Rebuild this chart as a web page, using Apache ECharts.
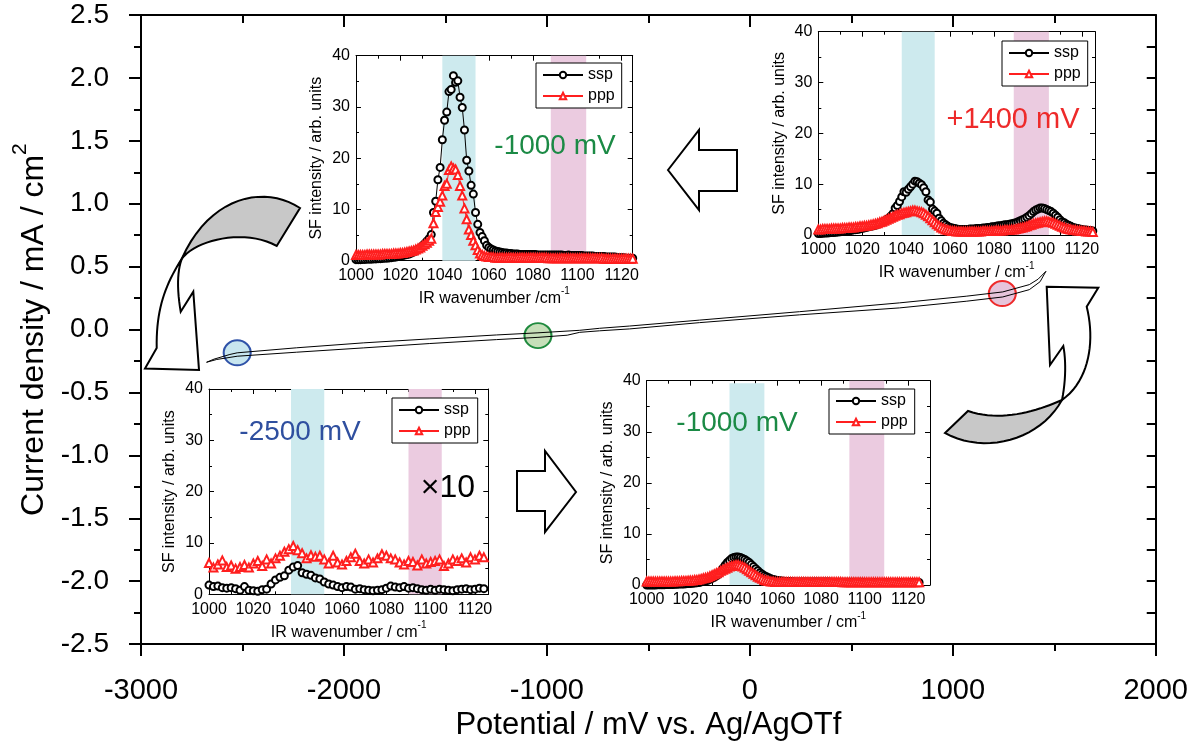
<!DOCTYPE html>
<html>
<head>
<meta charset="utf-8">
<script src="https://cdn.jsdelivr.net/npm/echarts@6/dist/echarts.min.js"></script>
<style>
  html, body { margin: 0; padding: 0; background: #fff; }
  #chart { width: 1191px; height: 746px; }
</style>
</head>
<body>
<div id="chart"></div>
<script>
// ---------- data ----------
// cyclic voltammogram (potential mV, current mA/cm2)
const cvForward = [[-2677,-0.26],[-2627,-0.238],[-2526,-0.212],[-2233,-0.18],[-1905,-0.146],[-1577,-0.111],[-1249,-0.08],[-1044,-0.062],[-900,-0.045],[-838,-0.022],[-740,-0.01],[-592,0.005],[-248,0.055],[245,0.117],[737,0.172],[1066,0.225],[1246,0.259],[1377,0.317],[1430,0.38],[1459,0.463]];
const cvReverse = [[1459,0.463],[1420,0.40],[1377,0.357],[1246,0.299],[1066,0.265],[737,0.212],[245,0.142],[-248,0.075],[-592,0.028],[-740,0.01],[-838,-0.006],[-1044,-0.026],[-1249,-0.043],[-1577,-0.074],[-1905,-0.106],[-2233,-0.145],[-2526,-0.185],[-2562,-0.198],[-2640,-0.235],[-2677,-0.26]];
// marked potentials on the CV
const markPoints = [[-2526,-0.185],[-1044,-0.048],[1244,0.286]];

// SFG spectra, wavenumber in cm-1
const wn = [1000,1001,1002,1003,1004,1005,1006,1007,1008,1009,1010,1011,1012,1013,1014,1015,1016,1017,1018,1019,1020,1021,1022,1023,1024,1025,1026,1027,1028,1029,1030,1031,1032,1033,1034,1035,1036,1037,1038,1039,1040,1041,1042,1043,1044,1045,1046,1047,1048,1049,1050,1051,1052,1053,1054,1055,1056,1057,1058,1059,1060,1061,1062,1063,1064,1065,1066,1067,1068,1069,1070,1071,1072,1073,1074,1075,1076,1077,1078,1079,1080,1081,1082,1083,1084,1085,1086,1087,1088,1089,1090,1091,1092,1093,1094,1095,1096,1097,1098,1099,1100,1101,1102,1103,1104,1105,1106,1107,1108,1109,1110,1111,1112,1113,1114,1115,1116,1117,1118,1119,1120,1121,1122,1123,1124,1125];
const wnCoarse = [1000,1002,1004,1006,1008,1010,1012,1014,1016,1018,1020,1022,1024,1026,1028,1030,1032,1034,1036,1038,1040,1042,1044,1046,1048,1050,1052,1054,1056,1058,1060,1062,1064,1066,1068,1070,1072,1074,1076,1078,1080,1082,1084,1086,1088,1090,1092,1094,1096,1098,1100,1102,1104,1106,1108,1110,1112,1114,1116,1118,1120,1122,1124];

// -1000 mV (upper inset)
const ssp1 = [0.2,0.2,0.2,0.25,0.25,0.3,0.3,0.3,0.35,0.35, 0.4,0.4,0.45,0.5,0.5,0.55,0.6,0.65,0.7,0.8, 0.9,1.0,1.1,1.2,1.3,1.5,1.7,1.9,2.2,2.5, 2.9,3.3,3.8,4.3,5.1,9.4,11.6,15.8,18.2,23.6, 27.4,29.0,33.0,33.4,36.1,34.8,35.1,31.9,29.9,25.5, 19.6,17.5,14.7,13.0,9.4,7.1,5.5,4.7,3.9,3.0, 2.6,2.3,2.1,1.9,1.8,1.7,1.6,1.5,1.5,1.4, 1.4,1.3,1.3,1.3,1.2,1.2,1.2,1.2,1.2,1.2, 1.2,1.2,1.1,1.1,1.1,1.1,1.1,1.1,1.1,1.1, 1.1,1.1,1.1,1.1,1.0,1.0,1.1,1.0,1.0,1.0, 1.0,1.0,1.0,0.9,0.9,0.9,0.9,0.9,0.8,0.8, 0.8,0.8,0.8,0.7,0.7,0.7,0.7,0.7,0.6,0.6, 0.6,0.6,0.5,0.5,0.5,0.5];
const ppp1 = [1.1,1.1,1.1,1.1,1.1,1.2,1.2,1.2,1.2,1.2, 1.2,1.2,1.3,1.3,1.3,1.3,1.3,1.4,1.4,1.4, 1.5,1.5,1.6,1.7,1.8,1.9,2.0,2.2,2.4,2.6, 2.9,3.2,3.5,3.9,4.3,7.3,9.5,10.5,11.5,12.7, 14.6,15.0,17.7,18.4,18.0,17.8,16.7,14.6,12.7,10.2, 8.1,6.1,5.0,3.9,3.0,2.1,1.4,1.1,0.9,0.8, 0.7,0.7,0.7,0.6,0.6,0.6,0.6,0.6,0.6,0.6, 0.6,0.6,0.6,0.6,0.6,0.6,0.6,0.6,0.6,0.6, 0.6,0.6,0.6,0.6,0.6,0.6,0.6,0.5,0.5,0.5, 0.5,0.5,0.5,0.5,0.5,0.5,0.5,0.5,0.5,0.5, 0.5,0.5,0.5,0.5,0.5,0.5,0.5,0.5,0.5,0.5, 0.5,0.5,0.4,0.4,0.4,0.4,0.4,0.4,0.4,0.4, 0.4,0.4,0.4,0.4,0.4,0.4];
// +1400 mV
const ssp2 = [0.3,0.3,0.35,0.4,0.4,0.45,0.5,0.5,0.55,0.6, 0.65,0.7,0.75,0.8,0.85,0.9,1.0,1.05,1.1,1.2, 1.3,1.4,1.5,1.6,1.7,1.8,1.9,2.1,2.3,2.5, 2.7,3.0,3.3,3.7,4.2,5.3,5.8,6.6,7.5,8.5, 8.4,9.0,9.5,10.0,10.6,10.5,10.2,9.9,9.3,8.5, 6.9,6.5,5.1,4.7,4.3,3.3,2.8,2.3,2.0,1.7, 1.5,1.4,1.3,1.2,1.1,1.1,1.1,1.1,1.1,1.2, 1.2,1.2,1.3,1.3,1.3,1.4,1.4,1.5,1.5,1.6, 1.6,1.7,1.8,1.8,1.9,2.0,2.0,2.1,2.2,2.3, 2.4,2.6,2.8,3.0,3.2,3.5,3.8,4.2,4.6,4.9, 5.1,5.3,5.3,5.2,5.0,4.8,4.6,4.3,3.9,3.5, 3.0,2.6,2.4,2.1,1.9,1.7,1.5,1.4,1.3,1.2, 1.1,1.0,1.0,0.9,0.9,0.8];
const ppp2 = [1.1,1.1,1.2,1.2,1.2,1.2,1.3,1.3,1.3,1.3, 1.3,1.4,1.4,1.4,1.5,1.5,1.5,1.6,1.6,1.7, 1.7,1.8,1.8,1.9,2.0,2.1,2.2,2.3,2.5,2.6, 2.8,3.0,3.2,3.4,3.6,3.8,4.0,4.1,4.3,4.4, 4.5,4.6,4.7,4.8,4.8,4.7,4.6,4.5,4.3,4.0, 3.7,3.3,2.9,2.5,2.1,1.8,1.5,1.3,1.1,1.0, 0.9,0.8,0.8,0.7,0.7,0.7,0.7,0.7,0.7,0.7, 0.7,0.7,0.7,0.7,0.7,0.8,0.8,0.8,0.8,0.8, 0.8,0.9,0.9,0.9,0.9,1.0,1.0,1.0,1.1,1.1, 1.2,1.3,1.4,1.5,1.6,1.7,1.9,2.0,2.2,2.3, 2.4,2.5,2.6,2.7,2.7,2.6,2.5,2.4,2.2,2.0, 1.8,1.6,1.5,1.3,1.2,1.1,1.0,1.0,0.9,0.9, 0.8,0.8,0.7,0.7,0.7,0.6];
// -2500 mV (x10), sampled every 2 cm-1
const ssp3 = [1.8,1.5,1.6,1.3,1.2,1.3,1.1,0.8,1.5,0.8,0.7,0.6,0.9,1.0,2.0,2.8,3.3,3.6,4.7,5.3,5.6,4.2,3.9,3.7,3.2,3.0,2.4,2.0,1.8,1.5,1.3,1.5,1.4,1.0,1.1,0.9,0.8,0.7,0.8,0.9,1.2,1.6,1.4,1.3,1.5,1.2,1.3,1.1,0.9,0.8,1.0,0.8,1.0,0.9,0.8,0.7,0.9,1.0,1.1,0.9,1.0,1.2,1.1];
const ppp3 = [6.1,5.2,5.8,6.6,5.3,5.6,5.0,5.3,5.7,5.2,6.0,6.5,5.5,6.8,6.0,7.0,7.5,8.3,8.8,9.4,8.6,8.0,7.0,7.6,7.3,7.5,6.8,6.0,7.5,6.2,5.8,6.5,7.2,7.9,6.5,6.0,6.8,6.2,7.0,7.8,7.5,7.0,6.8,6.2,5.8,6.5,6.3,5.6,6.8,6.0,6.3,6.5,6.8,5.5,6.0,6.8,6.5,7.0,6.2,7.2,6.8,7.5,7.2];
// -1000 mV (lower inset)
const ssp4 = [0.0,0.0,0.0,0.0,0.0,0.05,0.05,0.05,0.05,0.1, 0.1,0.1,0.1,0.15,0.15,0.2,0.2,0.2,0.25,0.3, 0.3,0.35,0.4,0.45,0.5,0.6,0.7,0.8,0.9,1.1, 1.3,1.5,1.8,2.1,2.6,3.3,3.9,4.4,4.8,5.2, 5.4,5.5,5.5,5.4,5.2,5.0,4.7,4.4,4.0,3.6, 3.2,2.8,2.4,2.1,1.8,1.6,1.4,1.2,1.1,1.0, 0.9,0.85,0.8,0.75,0.7,0.7,0.65,0.65,0.6,0.6, 0.6,0.6,0.6,0.6,0.6,0.6,0.6,0.6,0.6,0.6, 0.6,0.6,0.6,0.6,0.6,0.55,0.55,0.55,0.55,0.55, 0.55,0.55,0.55,0.55,0.55,0.55,0.55,0.55,0.55,0.55, 0.5,0.5,0.5,0.5,0.5,0.5,0.5,0.5,0.5,0.5, 0.5,0.5,0.5,0.5,0.5,0.5,0.5,0.5,0.5,0.5, 0.5,0.5,0.5,0.5,0.5,0.5];
const ppp4 = [0.7,0.7,0.7,0.7,0.7,0.7,0.7,0.7,0.7,0.7, 0.7,0.7,0.7,0.75,0.75,0.75,0.8,0.8,0.8,0.85, 0.9,0.9,1.0,1.0,1.1,1.2,1.3,1.4,1.5,1.7, 1.9,2.1,2.3,2.5,2.8,3.0,3.2,3.4,3.6,3.7, 3.8,3.9,3.9,3.8,3.6,3.4,3.1,2.8,2.5,2.2, 1.9,1.6,1.4,1.2,1.0,0.9,0.8,0.7,0.7,0.6, 0.6,0.6,0.6,0.6,0.6,0.6,0.6,0.6,0.6,0.6, 0.6,0.6,0.6,0.6,0.6,0.6,0.6,0.6,0.6,0.6, 0.6,0.6,0.6,0.6,0.6,0.6,0.6,0.6,0.6,0.6, 0.55,0.55,0.55,0.55,0.55,0.55,0.55,0.55,0.55,0.55, 0.55,0.55,0.55,0.55,0.55,0.55,0.55,0.55,0.55,0.55, 0.55,0.55,0.55,0.55,0.55,0.55,0.55,0.55,0.55,0.55, 0.55,0.55,0.55,0.55,0.55,0.55];

// shaded bands (cm-1) per inset
const cyanBands = [[1039,1054],[1038,1053],[1037,1052],[1038,1054]];
const pinkBands = [[1088,1104],[1089,1105],[1090,1105],[1093,1109]];
const cyanTop = [40, 40, 40, 39.5];

// ---------- layout ----------
const FONT = "'Liberation Sans', Arial, sans-serif";
const BLACK = '#000';
const RED = '#ff1f1f';
const insetGrids = [
  { left: 356, top: 55.7, width: 276.7, height: 205, max: 1125, xname: 'IR wavenumber /cm' },
  { left: 818.3, top: 31.7, width: 276.7, height: 203.3, max: 1126, xname: 'IR wavenumber / cm' },
  { left: 209, top: 389, width: 279.3, height: 205.3, max: 1126, xname: 'IR wavenumber / cm' },
  { left: 646.7, top: 380.7, width: 283.3, height: 204.3, max: 1130, xname: 'IR wavenumber / cm' }
];
const spectra = [
  { x: wn, ssp: ssp1, ppp: ppp1 },
  { x: wn, ssp: ssp2, ppp: ppp2 },
  { x: wnCoarse, ssp: ssp3, ppp: ppp3 },
  { x: wn, ssp: ssp4, ppp: ppp4 }
];

const thin = { color: BLACK, width: 1 };
const thick = { color: BLACK, width: 2 };

const grid = [{ left: 141, top: 15, width: 1015.5, height: 630 }];
const xAxis = [
  {
    gridIndex: 0, type: 'value', min: -3000, max: 2000, interval: 1000, position: 'bottom',
    axisLine: { onZero: false, lineStyle: thick },
    axisTick: { length: 12, lineStyle: thick },
    minorTick: { show: true, splitNumber: 2, length: 7, lineStyle: thick },
    splitLine: { show: false },
    axisLabel: { fontSize: 29, color: BLACK, margin: 32, fontFamily: FONT, formatter: v => String(v) },
    name: 'Potential / mV vs. Ag/AgOTf', nameLocation: 'middle', nameGap: 56,
    nameTextStyle: { fontSize: 31, color: BLACK, fontFamily: FONT }
  },
  {
    gridIndex: 0, type: 'value', min: -3000, max: 2000, interval: 1000, position: 'top',
    axisLine: { onZero: false, lineStyle: thick },
    axisTick: { inside: true, length: 12, lineStyle: thick },
    minorTick: { show: true, splitNumber: 2, length: 8, lineStyle: thick },
    splitLine: { show: false }, axisLabel: { show: false }
  }
];
const yAxis = [
  {
    gridIndex: 0, type: 'value', min: -2.5, max: 2.5, interval: 0.5, position: 'left',
    axisLine: { onZero: false, lineStyle: thick },
    axisTick: { length: 12, lineStyle: thick },
    minorTick: { show: true, splitNumber: 2, length: 7, lineStyle: thick },
    splitLine: { show: false },
    axisLabel: { fontSize: 28, color: BLACK, margin: 32, fontFamily: FONT, formatter: v => v.toFixed(1) },
    name: '{a|Current density / mA / cm}{s|2}', nameLocation: 'middle', nameGap: 88,
    nameTextStyle: {
      color: BLACK, fontFamily: FONT,
      rich: {
        a: { fontSize: 32, fontFamily: FONT, color: BLACK, lineHeight: 40, verticalAlign: 'bottom' },
        s: { fontSize: 21, fontFamily: FONT, color: BLACK, lineHeight: 40, verticalAlign: 'top' }
      }
    }
  },
  {
    gridIndex: 0, type: 'value', min: -2.5, max: 2.5, interval: 0.5, position: 'right',
    axisLine: { onZero: false, lineStyle: thick },
    axisTick: { inside: true, length: 9, lineStyle: thick },
    minorTick: { show: true, splitNumber: 2, length: 9, lineStyle: thick },
    splitLine: { show: false }, axisLabel: { show: false }
  }
];

insetGrids.forEach((g, k) => {
  const gi = k + 1;
  grid.push({ left: g.left, top: g.top, width: g.width, height: g.height });
  const xBase = {
    gridIndex: gi, type: 'value', min: 1000, max: g.max, interval: 20,
    axisLine: { onZero: false, lineStyle: thin },
    axisTick: { inside: true, length: 5, lineStyle: thin },
    minorTick: { show: true, splitNumber: 2, length: 3, lineStyle: thin },
    splitLine: { show: false }
  };
  xAxis.push(Object.assign({}, xBase, {
    position: 'bottom',
    axisLabel: { fontSize: 16, color: BLACK, margin: 7, fontFamily: FONT, formatter: v => (v % 20 === 0 ? String(v) : '') },
    name: '{a|' + g.xname + '}{s|-1}', nameLocation: 'middle', nameGap: 26,
    nameTextStyle: {
      rich: {
        a: { fontSize: 16, fontFamily: FONT, color: BLACK, lineHeight: 20, verticalAlign: 'bottom' },
        s: { fontSize: 10, fontFamily: FONT, color: BLACK, lineHeight: 20, verticalAlign: 'top' }
      }
    }
  }));
  xAxis.push(Object.assign({}, xBase, { position: 'top', axisLabel: { show: false } }));
  const yBase = {
    gridIndex: gi, type: 'value', min: 0, max: 40, interval: 10,
    axisLine: { onZero: false, lineStyle: thin },
    axisTick: { inside: true, length: 5, lineStyle: thin },
    minorTick: { show: true, splitNumber: 2, length: 3, lineStyle: thin },
    splitLine: { show: false }
  };
  yAxis.push(Object.assign({}, yBase, {
    position: 'left',
    axisLabel: { fontSize: 16, color: BLACK, margin: 6, fontFamily: FONT },
    name: 'SF intensity / arb. units', nameLocation: 'middle', nameGap: 31,
    nameTextStyle: { fontSize: 16, color: BLACK, fontFamily: FONT }
  }));
  yAxis.push(Object.assign({}, yBase, { position: 'right', axisLabel: { show: false } }));
});

// ---------- series ----------
const series = [
  {
    type: 'scatter', xAxisIndex: 0, yAxisIndex: 0, z: 3, silent: true,
    symbol: 'circle', symbolSize: [27, 25],
    data: [
      { value: markPoints[0], itemStyle: { color: '#c8e6ef', borderColor: '#2f52a8', borderWidth: 2, opacity: 1 } },
      { value: markPoints[1], itemStyle: { color: '#c6dfb9', borderColor: '#1f8a3e', borderWidth: 2, opacity: 1 } },
      { value: markPoints[2], itemStyle: { color: '#e6c4da', borderColor: '#ee2a2a', borderWidth: 2, opacity: 1 } }
    ]
  },
  {
    type: 'line', xAxisIndex: 0, yAxisIndex: 0, z: 5, silent: true,
    data: cvForward.concat(cvReverse), symbol: 'none',
    lineStyle: { color: BLACK, width: 1 }
  }
];

spectra.forEach((s, k) => {
  const xi = 2 + 2 * k, yi = 2 + 2 * k;
  series.push({
    type: 'line', xAxisIndex: xi, yAxisIndex: yi, z: 1, silent: true,
    data: [[1000, 0]], symbol: 'none', lineStyle: { width: 0 },
    markArea: {
      silent: true,
      data: [
        [{ xAxis: cyanBands[k][0], yAxis: 0, itemStyle: { color: '#cdeaee' } }, { xAxis: cyanBands[k][1], yAxis: cyanTop[k] }],
        [{ xAxis: pinkBands[k][0], yAxis: 0, itemStyle: { color: '#ebcbe0' } }, { xAxis: pinkBands[k][1], yAxis: 40 }]
      ]
    }
  });
  series.push({
    name: 'ssp', type: 'line', xAxisIndex: xi, yAxisIndex: yi, z: 3,
    data: s.x.map((w, i) => [w, s.ssp[i]]),
    symbol: 'emptyCircle', symbolSize: 7, showAllSymbol: true,
    lineStyle: { color: BLACK, width: 1 },
    itemStyle: { color: BLACK, borderWidth: 1 }
  });
  series.push({
    name: 'ppp', type: 'line', xAxisIndex: xi, yAxisIndex: yi, z: 4,
    data: s.x.map((w, i) => [w, s.ppp[i]]),
    symbol: 'emptyTriangle', symbolSize: 8, showAllSymbol: true,
    lineStyle: { color: RED, width: 1 },
    itemStyle: { color: RED, borderWidth: 1 }
  });
});

// ---------- legends ----------
const legendPos = [[536, 63], [1002, 41], [392, 398], [829, 389]];
const legend = legendPos.map(p => ({
  data: ['ssp', 'ppp'], left: p[0], top: p[1], orient: 'vertical',
  itemWidth: 40, itemHeight: 8, itemGap: 5, padding: [4, 7, 4, 6],
  borderColor: BLACK, borderWidth: 1, backgroundColor: '#fff', selectedMode: false,
  textStyle: { fontSize: 16, color: BLACK, fontFamily: FONT }
}));

// ---------- annotations ----------
function cubic(p0, p1, p2, p3, n) {
  const pts = [];
  for (let i = 1; i <= n; i++) {
    const t = i / n, u = 1 - t;
    pts.push([
      u * u * u * p0[0] + 3 * u * u * t * p1[0] + 3 * u * t * t * p2[0] + t * t * t * p3[0],
      u * u * u * p0[1] + 3 * u * u * t * p1[1] + 3 * u * t * t * p2[1] + t * t * t * p3[1]
    ]);
  }
  return pts;
}
const arrowStyle = (fill) => ({ fill: fill, stroke: BLACK, lineWidth: 2, lineJoin: 'miter' });

const leftGray = [[300, 208]].concat(
  cubic([300, 208], [265, 185], [210, 195], [181.7, 259], 20),
  cubic([181.7, 259], [195, 240], [245, 228], [276.7, 246], 20));
const leftWhite = [[181.7, 259]].concat(
  cubic([181.7, 259], [165, 285], [156, 310], [156.7, 348], 20),
  [[145, 368.5], [199, 370], [193.3, 291.7], [180.7, 311.7]],
  cubic([180.7, 311.7], [177, 290], [177, 272], [181.7, 259], 12));
const rightWhite = [[1046.7, 286.7], [1098.3, 287.7], [1086.7, 306.7]].concat(
  cubic([1086.7, 306.7], [1095, 340], [1090, 380], [1062, 400], 20),
  cubic([1062, 400], [1066, 380], [1066, 360], [1063.3, 346], 12),
  [[1050, 365]]);
const rightGray = [[1062, 400]].concat(
  cubic([1062, 400], [1035, 412], [1000, 422], [968, 411], 20),
  [[945, 433]],
  cubic([945, 433], [985, 455], [1040, 440], [1062, 400], 20));

const textEl = (txt, x, y, color, size) => ({
  type: 'text', x: x, y: y, z: 20, silent: true,
  style: { text: txt, fill: color, fontSize: size, fontFamily: FONT, align: 'center', verticalAlign: 'middle' }
});

const graphic = [
  { type: 'polygon', z: 10, silent: true, shape: { points: leftGray }, style: arrowStyle('#c8c8c8') },
  { type: 'polygon', z: 10, silent: true, shape: { points: leftWhite }, style: arrowStyle('#fff') },
  { type: 'polygon', z: 10, silent: true, shape: { points: rightWhite }, style: arrowStyle('#fff') },
  { type: 'polygon', z: 10, silent: true, shape: { points: rightGray }, style: arrowStyle('#c8c8c8') },
  { type: 'polygon', z: 10, silent: true, shape: { points: [[668, 170], [699, 130], [699, 150], [737, 150], [737, 191], [699, 191], [699, 210]] }, style: arrowStyle('#fff') },
  { type: 'polygon', z: 10, silent: true, shape: { points: [[517, 471], [545, 471], [545, 451], [576, 492], [545, 532], [545, 511], [517, 511]] }, style: arrowStyle('#fff') },
  textEl('-1000 mV', 555, 146, '#1b8a45', 28),
  textEl('+1400 mV', 1013, 120, '#ee2a2a', 29),
  textEl('-2500 mV', 300, 432, '#2f4f9f', 28),
  textEl('\u00d710', 448, 488, BLACK, 32),
  textEl('-1000 mV', 737, 423, '#1b8a45', 28)
];

const chart = echarts.init(document.getElementById('chart'));
chart.setOption({
  animation: false,
  backgroundColor: '#fff',
  textStyle: { fontFamily: FONT },
  grid: grid,
  xAxis: xAxis,
  yAxis: yAxis,
  legend: legend,
  series: series,
  graphic: graphic
});
</script>
</body>
</html>
